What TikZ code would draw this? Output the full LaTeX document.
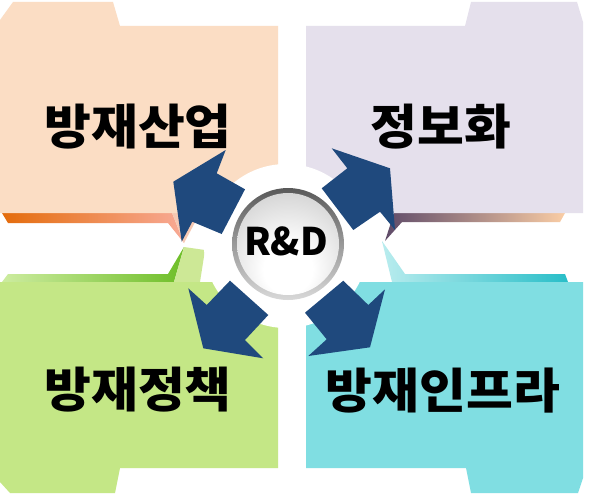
\documentclass[tikz,border=0pt]{standalone}
\usepackage{fontspec}
\newfontfamily\kr{Noto Sans CJK KR}
\definecolor{tlc}{RGB}{251,221,196}
\definecolor{trc}{RGB}{229,224,236}
\definecolor{blc}{RGB}{196,231,134}
\definecolor{brc}{RGB}{128,222,226}
\definecolor{arr}{RGB}{31,73,125}
\definecolor{tlsA}{RGB}{228,108,12}
\definecolor{tlsB}{RGB}{248,170,150}
\definecolor{tlf}{RGB}{246,200,178}
\definecolor{blsA}{RGB}{205,236,160}
\definecolor{blsB}{RGB}{110,190,40}
\definecolor{blf}{RGB}{205,232,150}
\definecolor{trsA}{RGB}{95,75,105}
\definecolor{trsB}{RGB}{250,205,165}
\definecolor{brsA}{RGB}{185,236,238}
\definecolor{brsB}{RGB}{40,190,200}
\pgfdeclareradialshading{spherein}{\pgfpoint{0bp}{-14bp}}{color(0bp)=(white); color(12bp)=(white); color(40bp)=(black!20); color(60bp)=(black!27); color(100bp)=(black!27)}
\begin{document}
\begin{tikzpicture}[x=1pt,y=-1pt,
  arrowshape/.style={fill=arr,draw=none},
  label/.style={font=\kr\bfseries\fontsize{48}{52}\selectfont,text=black,inner sep=0pt,xscale=1.06}]
\useasboundingbox (0,0) rectangle (593,495);
\fill[white] (0,0) rectangle (593,495);
% shadow strips / folds
\shade[left color=tlsA, right color=tlsB]
  (2,213) -- (172,213) -- (184,243) -- (168,223) -- (8,223) -- cycle;
\fill[tlf] (172,213) -- (200,213) -- (184,243) -- cycle;
\shade[left color=blsA, right color=blsB]
  (8,274) -- (168,274) -- (184,247) -- (174,282) -- (2,282) -- cycle;
\fill[blf] (184,247) -- (205,250) -- (200,282) -- (174,282) -- cycle;
\shade[left color=trsA, right color=trsB]
  (394,213) -- (565,213) -- (560,222) -- (402,222) -- (385,241) -- cycle;
\shade[left color=brsA, right color=brsB]
  (382,241) -- (405,274) -- (565,274) -- (568,282) -- (392,282) -- cycle;
% folders
\fill[tlc] (0,20) -- (13,2) -- (113,2) -- (120,26) -- (278,26) -- (278,213) -- (0,213) -- cycle;
\fill[trc] (306,26) -- (465,26) -- (471,2) -- (577,2) -- (583,22) -- (583,213) -- (306,213) -- cycle;
\fill[blc] (0,282) -- (278,282) -- (278,468) -- (120,468) -- (115,493) -- (10,493) -- (0,482) -- cycle;
\fill[brc] (306,282) -- (583,282) -- (583,478) -- (578,493) -- (471,493) -- (466,468) -- (306,468) -- cycle;
% white disk
\fill[white] (286,246) circle[radius=82];
% arrows
\fill[arrowshape] (173.3,181.7) -- (181.7,241.7) -- (192.3,221.7) -- (221.7,234) -- (245,189.3) -- (216.7,173.3) -- (225.7,150) -- cycle;
\fill[arrowshape] (331.7,148.3) -- (390,168.3) -- (395,230) -- (380,211.7) -- (353.3,230) -- (321.7,188.3) -- (347.3,168.3) -- cycle;
\fill[arrowshape] (188.3,288.3) -- (206.7,305) -- (230,280.7) -- (268.3,315) -- (245,340) -- (263.3,358.3) -- (203.3,348.3) -- cycle;
\fill[arrowshape] (343.3,280.7) -- (368.3,305) -- (385,289.3) -- (370,347.3) -- (308.3,356) -- (326.7,339.3) -- (305,312.7) -- cycle;
% sphere
\shade[top color=black!65, bottom color=black!15] (288,244) circle[radius=56];
\shade[shading=spherein] (288,244) circle[radius=51];
\node[font=\kr\bfseries\fontsize{38}{42}\selectfont,inner sep=0pt] (rd) at (286,241) {R\&D};
% labels
\node[label] (tl) at (138,127) {방재산업};
\node[label] (tr) at (441,127) {정보화};
\node[label] (bl) at (138,390) {방재정책};
\node[label] (br) at (443,391) {방재인프라};
\end{tikzpicture}
\end{document}
